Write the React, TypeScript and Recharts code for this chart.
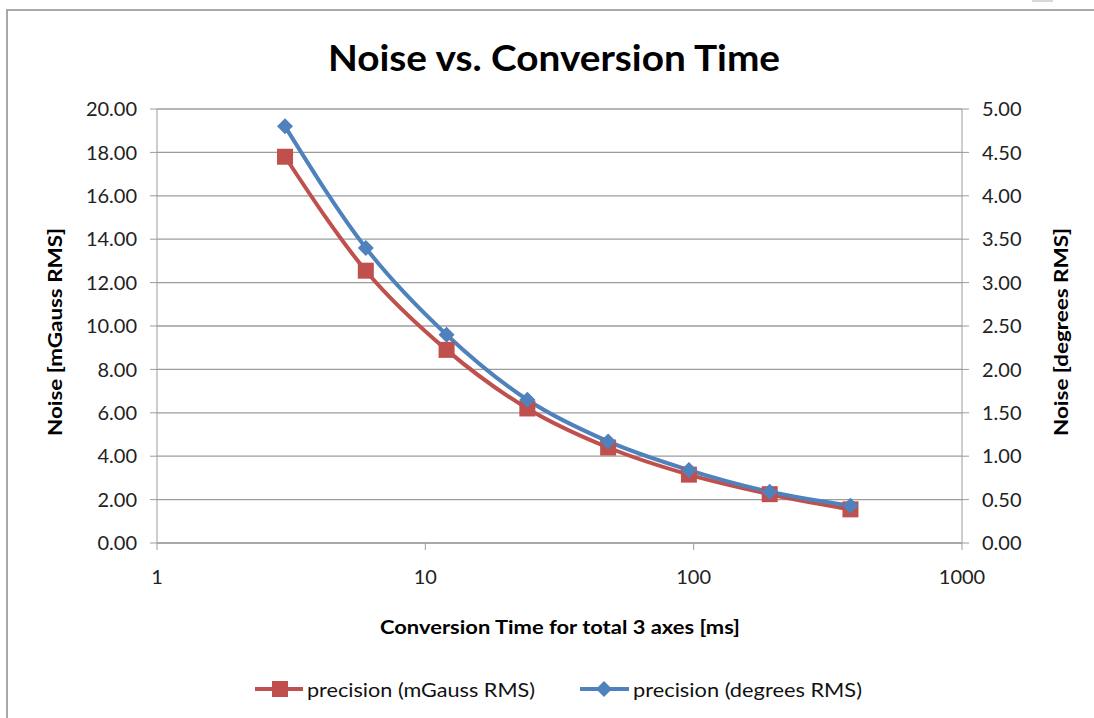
import React from 'react';
import { ComposedChart, Line, XAxis, YAxis, CartesianGrid, Label } from 'recharts';

const conversionTimeMs = [3, 6, 12, 24, 48, 96, 192, 384];
const noiseMGauss = [17.8, 12.55, 8.9, 6.2, 4.4, 3.15, 2.25, 1.55];
const noiseDegrees = [4.8, 3.4, 2.4, 1.65, 1.17, 0.84, 0.59, 0.43];
const xTicks = [1, 10, 100, 1000];
const leftTicks = [0, 2, 4, 6, 8, 10, 12, 14, 16, 18, 20];
const rightTicks = [0, 0.5, 1, 1.5, 2, 2.5, 3, 3.5, 4, 4.5, 5];

const seriesNames = ['precision (mGauss RMS)', 'precision (degrees RMS)'];
const RED = '#C0504D';
const BLUE = '#4F81BD';
const FONT = 'Lato, "Open Sans", sans-serif';

const data = conversionTimeMs.map((t, i) => ({ t, mg: noiseMGauss[i], deg: noiseDegrees[i] }));

const SquareDot = (props: any) => {
  const { cx, cy } = props;
  if (cx == null || cy == null) return null;
  return <rect x={cx - 8} y={cy - 8} width={16} height={16} fill={RED} />;
};

const DiamondDot = (props: any) => {
  const { cx, cy } = props;
  if (cx == null || cy == null) return null;
  const r = 8;
  return <polygon points={`${cx},${cy - r} ${cx + r},${cy} ${cx},${cy + r} ${cx - r},${cy}`} fill={BLUE} />;
};

const tickStyle = { fontFamily: FONT, fontSize: 20, fill: '#222' };
const axisTitleStyle = { fontFamily: FONT, fontWeight: 700, fontSize: 18, fill: '#000' };

const VerticalTitle = ({ cx, cy, text }: { cx: number; cy: number; text: string }) => (
  <text
    x={cx}
    y={cy}
    textAnchor="middle"
    dominantBaseline="central"
    transform={`rotate(-90 ${cx} ${cy})`}
    textLength={208}
    lengthAdjust="spacingAndGlyphs"
    style={axisTitleStyle}
  >
    {text}
  </text>
);

export default function App() {
  return (
    <div style={{ position: 'absolute', left: 0, top: 0, width: 1094, height: 718, overflow: 'hidden', background: '#fff' }}>
      <div style={{ position: 'absolute', left: 6, top: 9, width: 1400, height: 900, borderTop: '2px solid #a8a8a8', borderLeft: '2px solid #a8a8a8' }} />
      <div style={{ position: 'absolute', left: 1032, top: 0, width: 21, height: 2, background: '#d8d8d8' }} />
      <svg width={1094} height={100} style={{ position: 'absolute', left: 0, top: 0 }}>
        <text x={554} y={71} textAnchor="middle" textLength={452} lengthAdjust="spacingAndGlyphs" style={{ fontFamily: FONT, fontWeight: 700, fontSize: 37, fill: '#000' }}>
          Noise vs. Conversion Time
        </text>
      </svg>
      <div style={{ position: 'absolute', left: 0, top: 0 }}>
        <ComposedChart width={1094} height={718} data={data} margin={{ top: 109, right: 40, bottom: 135, left: 40 }}>
          <CartesianGrid vertical={false} stroke="#9c9c9c" strokeWidth={1.3} yAxisId="left" />
          <XAxis
            dataKey="t"
            type="number"
            scale="log"
            domain={[1, 1000]}
            ticks={xTicks}
            allowDataOverflow
            height={40}
            stroke="#9c9c9c"
            tickSize={7}
            tickMargin={20}
            tick={tickStyle}
          >
            <Label
              content={(p: any) => {
                const vb = p.viewBox;
                return (
                  <text x={560} y={634} textAnchor="middle" textLength={360} lengthAdjust="spacingAndGlyphs" style={axisTitleStyle}>
                    Conversion Time for total 3 axes [ms]
                  </text>
                );
              }}
            />
          </XAxis>
          <YAxis
            yAxisId="left"
            orientation="left"
            domain={[0, 20]}
            ticks={leftTicks}
            width={117}
            stroke="#9c9c9c"
            tickSize={7}
            tickMargin={13}
            tick={tickStyle}
            tickFormatter={(v: number) => v.toFixed(2)}
          >
            <Label content={() => <VerticalTitle cx={55} cy={332} text="Noise [mGauss RMS]" />} />
          </YAxis>
          <YAxis
            yAxisId="right"
            orientation="right"
            domain={[0, 5]}
            ticks={rightTicks}
            width={92}
            stroke="#9c9c9c"
            tickSize={7}
            tickMargin={13}
            tick={tickStyle}
            tickFormatter={(v: number) => v.toFixed(2)}
          >
            <Label content={() => <VerticalTitle cx={1061} cy={332} text="Noise [degrees RMS]" />} />
          </YAxis>
          <Line
            yAxisId="left"
            dataKey="mg"
            name={seriesNames[0]}
            type="monotone"
            stroke={RED}
            strokeWidth={4}
            dot={<SquareDot />}
            activeDot={false}
            isAnimationActive={false}
          />
          <Line
            yAxisId="right"
            dataKey="deg"
            name={seriesNames[1]}
            type="monotone"
            stroke={BLUE}
            strokeWidth={4}
            dot={<DiamondDot />}
            activeDot={false}
            isAnimationActive={false}
          />
        </ComposedChart>
      </div>
      <svg width={1094} height={40} style={{ position: 'absolute', left: 0, top: 670 }}>
        <line x1={255} y1={19} x2={303} y2={19} stroke={RED} strokeWidth={4} />
        <rect x={272} y={11} width={16} height={16} fill={RED} />
        <text x={307} y={19} dominantBaseline="central" textLength={228} lengthAdjust="spacingAndGlyphs" style={{ fontFamily: FONT, fontSize: 20, fill: '#111' }}>
          {seriesNames[0]}
        </text>
        <line x1={580} y1={19} x2={629} y2={19} stroke={BLUE} strokeWidth={4} />
        <polygon points="604,11 612,19 604,27 596,19" fill={BLUE} />
        <text x={633} y={19} dominantBaseline="central" textLength={229} lengthAdjust="spacingAndGlyphs" style={{ fontFamily: FONT, fontSize: 20, fill: '#111' }}>
          {seriesNames[1]}
        </text>
      </svg>
    </div>
  );
}
